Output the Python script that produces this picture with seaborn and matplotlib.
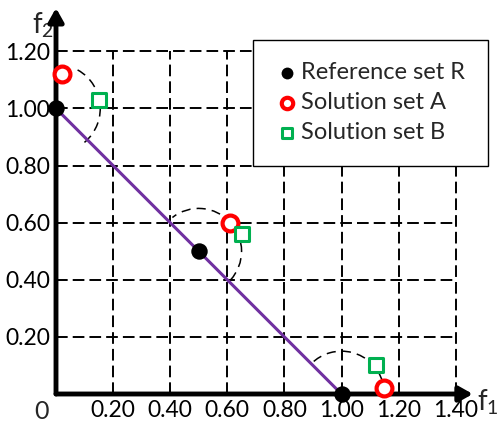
import matplotlib
matplotlib.use("Agg")
import matplotlib.pyplot as plt
from matplotlib.patches import Arc
import seaborn as sns
import pandas as pd

sns.set_style("white")
plt.rcParams['font.family'] = ['Lato', 'DejaVu Sans']
plt.rcParams['mathtext.fontset'] = 'custom'
plt.rcParams['mathtext.rm'] = 'Lato'
plt.rcParams['mathtext.it'] = 'Lato'
plt.rcParams['mathtext.default'] = 'regular'

# ---- data ----
ref_f1 = [0.0, 0.5, 1.0]
ref_f2 = [1.0, 0.5, 0.0]
a_f1 = [0.02, 0.61, 1.15]
a_f2 = [1.12, 0.60, 0.02]
b_f1 = [0.15, 0.65, 1.12]
b_f2 = [1.03, 0.56, 0.10]
front_f1 = [0.0, 1.0]
front_f2 = [1.0, 0.0]
arc_radius = [0.155, 0.15, 0.15]
arc_start = [-50, -42, 16]
arc_end = [68, 128, 135]
xticks = [0.2, 0.4, 0.6, 0.8, 1.0, 1.2, 1.4]
yticks = [0.2, 0.4, 0.6, 0.8, 1.0, 1.2]
xticklabels = ["0.20", "0.40", "0.60", "0.80", "1.00", "1.20", "1.40"]
yticklabels = ["0.20", "0.40", "0.60", "0.80", "1.00", "1.20"]
legend_labels = ["Reference set R", "Solution set A", "Solution set B"]

W, H = 498, 423
fig = plt.figure(figsize=(W / 100, H / 100), dpi=100)
ox, oy, s = 56, 394, 285.5
xmax, ymax = 1.46, 1.352
ax = fig.add_axes([ox / W, (H - oy) / H, xmax * s / W, ymax * s / H])
ax.set_xlim(0, xmax)
ax.set_ylim(0, ymax)
for sp in ax.spines.values():
    sp.set_visible(False)

# grid box
dash = (0, (6, 2.6))
ax.vlines(xticks, 0, 1.2, colors='k', lw=1.4, linestyles=[dash], zorder=1)
ax.hlines(yticks, 0, 1.4, colors='k', lw=1.4, linestyles=[dash], zorder=1)

# arcs
for cx, cy, r, t1, t2 in zip(ref_f1, ref_f2, arc_radius, arc_start, arc_end):
    ax.add_patch(Arc((cx, cy), 2 * r, 2 * r, theta1=t1, theta2=t2,
                     color='k', lw=1.1, ls=(0, (6, 4)), zorder=2))

# front line
sns.lineplot(x=front_f1, y=front_f2, color='#7030A0', lw=2.2, ax=ax, zorder=3)

# axes arrows
ax.annotate("", xy=(xmax, 0), xytext=(0, 0), annotation_clip=False,
            arrowprops=dict(arrowstyle='-|>,head_length=0.8,head_width=0.45',
                            lw=3.5, color='k', shrinkA=0, shrinkB=0), zorder=4)
ax.annotate("", xy=(0, ymax), xytext=(0, 0), annotation_clip=False,
            arrowprops=dict(arrowstyle='-|>,head_length=0.8,head_width=0.45',
                            lw=3.5, color='k', shrinkA=0, shrinkB=0), zorder=4)

# points
sns.scatterplot(x=ref_f1, y=ref_f2, ax=ax, color='k', s=140, marker='o',
                edgecolor='k', linewidth=0, label=legend_labels[0], zorder=6, clip_on=False)
sns.scatterplot(x=a_f1, y=a_f2, ax=ax, facecolor='white', s=130, marker='o',
                edgecolor='#FF0000', linewidth=3, label=legend_labels[1], zorder=7, clip_on=False)
sns.scatterplot(x=b_f1, y=b_f2, ax=ax, facecolor='white', s=100, marker='s',
                edgecolor='#00B050', linewidth=2.2, label=legend_labels[2], zorder=7, clip_on=False)

# ticks
ax.set_xticks(xticks)
ax.set_xticklabels(xticklabels)
ax.set_yticks(yticks)
ax.set_yticklabels(yticklabels)
ax.tick_params(length=0, labelsize=16.5, pad=4, colors='k')
ax.set_xlabel("")
ax.set_ylabel("")

# axis labels
ax.text(-0.05, -0.06, "0", fontsize=18, ha='center', va='center', clip_on=False)
ax.text(1.475, -0.03, r"f$_1$", fontsize=20, ha='left', va='center', clip_on=False)
ax.text(-0.085, 1.29, r"f$_2$", fontsize=20, ha='left', va='center', clip_on=False)

# legend
x0, y0, x1, y1 = 253 / W, 1 - 167 / H, 488 / W, 1 - 40 / H
leg = ax.legend(loc='upper left', bbox_to_anchor=(x0, y0, x1 - x0, y1 - y0),
                bbox_transform=fig.transFigure, mode='expand', fontsize=17,
                frameon=True, fancybox=False, framealpha=1, edgecolor='k',
                borderpad=0.95, handlelength=1.0, handletextpad=0.1, labelspacing=0.38,
                borderaxespad=0, markerscale=0.72)
leg.get_frame().set_linewidth(1.0)
leg.set_zorder(10)

fig.savefig("out.png", dpi=100)
